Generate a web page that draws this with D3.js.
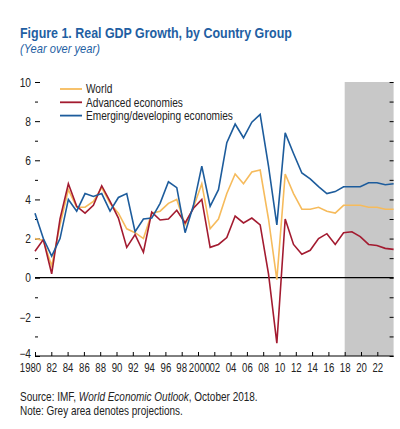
<!DOCTYPE html>
<html><head><meta charset="utf-8">
<script src="https://cdn.jsdelivr.net/npm/d3@7/dist/d3.min.js"></script>
<style>
body{margin:0;background:#fff;}
svg text{font-family:"Liberation Sans",Arial,sans-serif;}
</style></head>
<body><svg id="c" width="400" height="429"></svg>
<script>
const years = d3.range(1980, 2024);
const world = [2.0,1.9,0.6,2.7,4.5,3.6,3.6,3.9,4.6,3.8,3.3,2.5,2.3,2.0,3.3,3.4,3.8,4.0,2.7,3.6,4.8,2.5,3.0,4.3,5.3,4.8,5.4,5.5,3.0,-0.1,5.3,4.3,3.5,3.5,3.6,3.4,3.3,3.7,3.7,3.7,3.6,3.6,3.5,3.5];
const advanced = [1.35,1.95,0.2,3.0,4.8,3.65,3.3,3.7,4.7,3.9,3.05,1.55,2.2,1.3,3.35,2.95,3.0,3.45,2.8,3.55,4.0,1.55,1.7,2.05,3.15,2.8,3.05,2.7,0.2,-3.35,3.0,1.7,1.2,1.4,2.0,2.25,1.7,2.3,2.35,2.1,1.7,1.65,1.5,1.45];
const emerging = [3.3,2.0,1.1,2.0,4.0,3.4,4.3,4.15,4.3,3.4,4.1,4.3,2.35,3.0,3.05,3.8,4.9,4.6,2.3,3.7,5.7,3.65,4.5,6.9,7.85,7.15,7.95,8.35,5.7,2.7,7.4,6.35,5.35,5.05,4.65,4.3,4.4,4.65,4.65,4.65,4.85,4.85,4.75,4.8];
const seriesNames = ["World","Advanced economies","Emerging/developing economies"];
const seriesColors = ["#f6bb5c","#a31b30","#1d5c9c"];
const xTickValues = d3.range(1980, 2024, 2);
const xTickLabels = xTickValues.map(y => y === 1980 ? "1980" : y === 2000 ? "2000" : String(y).slice(2));
const yTickValues = [-4,-2,0,2,4,6,8,10];
const projectionStart = 2018;

const svg = d3.select("#c");
const L = 35, R = 393.6, T = 82, B = 356;
const SX = 0.8;
const xData = d3.scaleLinear().domain([1980, 2023]).range([L, R]);
const xTick = d3.scaleLinear().domain([1980, 2024]).range([L, R]);
const y = d3.scaleLinear().domain([-4, 10]).range([B, T]);

function fitText(sel, target) {
  const w = sel.node().getComputedTextLength();
  const x = +sel.attr("x");
  sel.attr("transform", `translate(${x},0) scale(${target / w},1) translate(${-x},0)`);
}

// title
fitText(svg.append("text").attr("x",20).attr("y",38).attr("fill","#1f5fa3")
  .attr("font-weight","bold").attr("font-size",14.5).text("Figure 1. Real GDP Growth, by Country Group"), 272);
fitText(svg.append("text").attr("x",20).attr("y",53).attr("fill","#1f5fa3")
  .attr("font-style","italic").attr("font-size",12).text("(Year over year)"), 80);

// projection area
svg.append("rect").attr("x",xTick(projectionStart)).attr("y",y(10))
  .attr("width",R - xTick(projectionStart)).attr("height",y(-4)-y(10)).attr("fill","#c8c8c8");

// zero line
svg.append("line").attr("x1",L).attr("x2",R).attr("y1",y(0)).attr("y2",y(0))
  .attr("stroke","#000").attr("stroke-width",1.2);

// left axis (ticks inward, no domain line)
const yAll = d3.range(-4, 11, 1);
const gl = svg.append("g").attr("transform",`translate(${L},0)`);
gl.call(d3.axisLeft(y).tickValues(yAll).tickSize(0).tickPadding(0).tickFormat(""));
gl.select(".domain").remove();
gl.selectAll(".tick").append("line").attr("x1",0).attr("x2",d => d%2===0?5:3).attr("stroke","#000");
gl.selectAll(".tick").filter(d=>yTickValues.includes(d)).append("text")
  .attr("transform",d=>`translate(-4,${d===-4?-2.5:0}) scale(0.85,1)`)
  .attr("dy","0.35em").attr("text-anchor","end").attr("fill","#222")
  .attr("font-size",12).text(d => d < 0 ? "\u2212" + Math.abs(d) : d);

// right axis ticks
const gr = svg.append("g").attr("transform",`translate(${R},0)`);
gr.call(d3.axisRight(y).tickValues(yAll).tickSize(-4).tickFormat(""));
gr.select(".domain").remove();

// bottom axis
const gb = svg.append("g").attr("transform",`translate(0,${B})`);
gb.call(d3.axisBottom(xTick).tickValues(xTickValues).tickSize(-4).tickFormat(""));
gb.select(".domain").remove();
gb.append("line").attr("x1",L).attr("x2",R).attr("stroke","#000");
const labelShift = d => d === 1980 ? -5 : d === 2000 ? 1 : d === 1998 ? -0.5 : 0;
gb.selectAll(".tick").append("text")
  .attr("transform",d=>`translate(${labelShift(d)},15.5) scale(${SX},1)`)
  .attr("text-anchor","middle")
  .attr("fill","#222").attr("font-size",12).text((d,i)=>xTickLabels[i]);

// lines
const dataSets = [world, advanced, emerging];
const line = d3.line().x((d,i)=>xData(years[i])).y(d=>y(d));
dataSets.forEach((ds,k)=>{
  svg.append("path").datum(ds).attr("d",line).attr("fill","none")
    .attr("stroke",seriesColors[k]).attr("stroke-width",1.6).attr("stroke-linejoin","miter");
});

// legend
seriesNames.forEach((n,k)=>{
  const ly = 89 + k*13.3;
  svg.append("line").attr("x1",60).attr("x2",82).attr("y1",ly).attr("y2",ly)
    .attr("stroke",seriesColors[k]).attr("stroke-width",1.8);
  svg.append("text").attr("x",0).attr("y",0).attr("dy","0.35em").attr("fill","#222")
    .attr("transform",`translate(86,${ly}) scale(0.845,1)`)
    .attr("font-size",12).text(n);
});

// notes
const src = svg.append("text").attr("x",20).attr("y",401).attr("fill","#222").attr("font-size",12);
src.append("tspan").text("Source: IMF, ");
src.append("tspan").attr("font-style","italic").text("World Economic Outlook");
src.append("tspan").text(", October 2018.");
fitText(src, 238);
fitText(svg.append("text").attr("x",20).attr("y",415).attr("fill","#222").attr("font-size",12)
  .text("Note: Grey area denotes projections."), 163);
</script></body></html>
